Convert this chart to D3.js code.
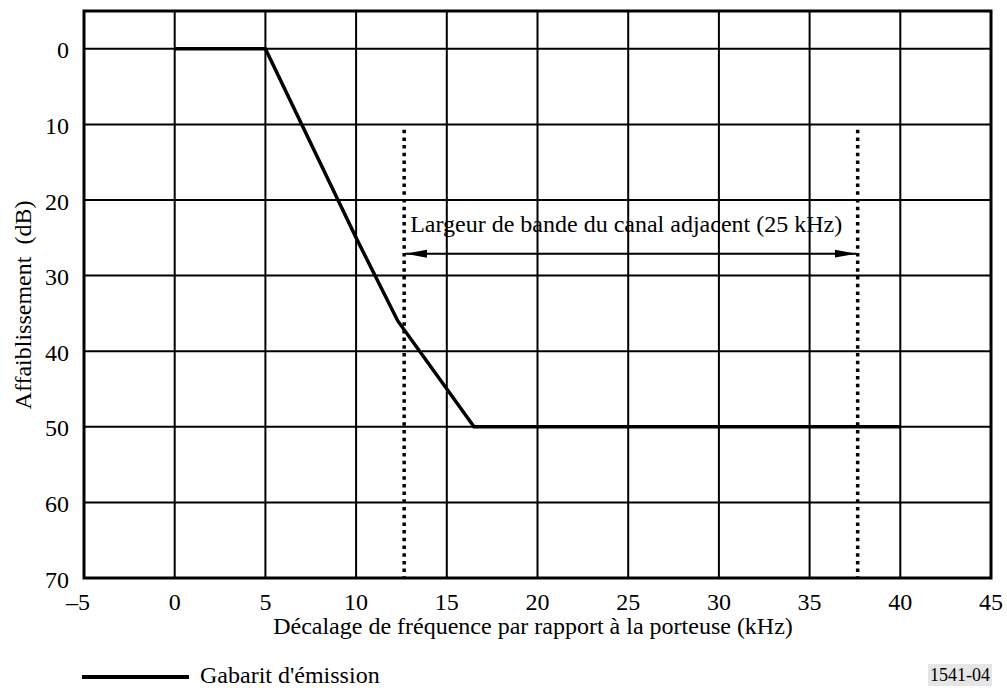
<!DOCTYPE html>
<html>
<head>
<meta charset="utf-8">
<script src="https://cdn.jsdelivr.net/npm/d3@7"></script>
<style>
  body { margin: 0; background: #fff; }
</style>
</head>
<body>
<div id="chart"></div>
<script>
// data
const maskFreq = [0, 5, 10, 12.3, 16.5, 40]
const maskAtten = [0, 0, 25, 36, 50, 50]
const bandEdges = [12.65, 37.65]
const bandTop = 10.7
const bandArrowY = 27.1
const xTicks = [-5, 0, 5, 10, 15, 20, 25, 30, 35, 40, 45]
const yTicks = [0, 10, 20, 30, 40, 50, 60, 70]

const width = 1007, height = 688
const margin = {top: 11, right: 16, bottom: 110, left: 84}
const serif = '"Liberation Serif", "Times New Roman", serif'

const svg = d3.select("#chart").append("svg")
  .attr("width", width)
  .attr("height", height)

const x = d3.scaleLinear().domain([-5, 45]).range([margin.left, width - margin.right])
const y = d3.scaleLinear().domain([-5, 70]).range([margin.top, height - margin.bottom])

// text helper, font set inline so nothing overrides it
function label(sel, size) {
  return sel.style("font-family", serif).style("font-size", size + "px").attr("fill", "#000")
}

svg.append("defs").append("marker")
  .attr("id", "arrow")
  .attr("viewBox", "0 0 22 10")
  .attr("refX", 22).attr("refY", 5)
  .attr("markerWidth", 22).attr("markerHeight", 10)
  .attr("markerUnits", "userSpaceOnUse")
  .attr("orient", "auto-start-reverse")
  .append("path")
  .attr("d", "M0,1 L22,5 L0,9 Z")
  .attr("fill", "#000")

// grid
const grid = svg.append("g").attr("stroke", "#000").attr("stroke-width", 2)
grid.selectAll("line.v").data(xTicks).enter().append("line")
  .attr("x1", d => x(d)).attr("x2", d => x(d))
  .attr("y1", y(-5)).attr("y2", y(70))
grid.selectAll("line.h").data(yTicks).enter().append("line")
  .attr("x1", x(-5)).attr("x2", x(45))
  .attr("y1", d => y(d)).attr("y2", d => y(d))

svg.append("rect")
  .attr("x", x(-5)).attr("y", y(-5))
  .attr("width", x(45) - x(-5)).attr("height", y(70) - y(-5))
  .attr("fill", "none").attr("stroke", "#000").attr("stroke-width", 3)

// tick labels (the minus sign sits left of the centred digit)
svg.append("g").selectAll("text").data(xTicks).enter().append("text")
  .call(label, 24)
  .attr("x", d => d < 0 ? x(d) + 6 : x(d)).attr("y", y(70) + 32)
  .attr("text-anchor", d => d < 0 ? "end" : "middle")
  .text(d => d < 0 ? "\u2013" + Math.abs(d) : d)

svg.append("g").selectAll("text").data(yTicks).enter().append("text")
  .call(label, 24)
  .attr("x", 69).attr("y", d => y(d) + 9.5)
  .attr("text-anchor", "end")
  .text(d => d)

// axis titles
svg.append("text")
  .call(label, 24)
  .attr("x", 533).attr("y", 634)
  .attr("text-anchor", "middle")
  .text("Décalage de fréquence par rapport à la porteuse (kHz)")

svg.append("text")
  .call(label, 24)
  .attr("transform", "translate(31, 305) rotate(-90)")
  .attr("text-anchor", "middle")
  .style("white-space", "pre")
  .text("Affaiblissement  (dB)")

// adjacent channel band
svg.append("g").selectAll("line").data(bandEdges).enter().append("line")
  .attr("x1", d => x(d)).attr("x2", d => x(d))
  .attr("y1", y(bandTop)).attr("y2", y(70))
  .attr("stroke", "#000").attr("stroke-width", 3.5)
  .attr("stroke-dasharray", "3.5,4.2")

svg.append("line")
  .attr("x1", x(bandEdges[0]) + 1).attr("x2", x(bandEdges[1]) - 1)
  .attr("y1", y(bandArrowY)).attr("y2", y(bandArrowY))
  .attr("stroke", "#000").attr("stroke-width", 2)
  .attr("marker-start", "url(#arrow)")
  .attr("marker-end", "url(#arrow)")

svg.append("text")
  .call(label, 24)
  .attr("x", x(bandEdges[0]) + 6).attr("y", y(bandArrowY) - 21.5)
  .text("Largeur de bande du canal adjacent (25 kHz)")

// emission mask
const maskData = maskFreq.map((f, i) => ({f, a: maskAtten[i]}))
svg.append("path")
  .datum(maskData)
  .attr("fill", "none")
  .attr("stroke", "#000")
  .attr("stroke-width", 3.5)
  .attr("d", d3.line().x(d => x(d.f)).y(d => y(d.a)))

// legend
svg.append("line")
  .attr("x1", 82).attr("x2", 189).attr("y1", 677).attr("y2", 677)
  .attr("stroke", "#000").attr("stroke-width", 4)
svg.append("text")
  .call(label, 24)
  .attr("x", 200).attr("y", 683)
  .text("Gabarit d'émission")

// figure number
svg.append("rect")
  .attr("x", 928).attr("y", 664).attr("width", 64).attr("height", 22)
  .attr("fill", "#e6e6e6")
svg.append("text")
  .call(label, 18)
  .attr("x", 960).attr("y", 681)
  .attr("text-anchor", "middle")
  .text("1541-04")
</script>
</body>
</html>
